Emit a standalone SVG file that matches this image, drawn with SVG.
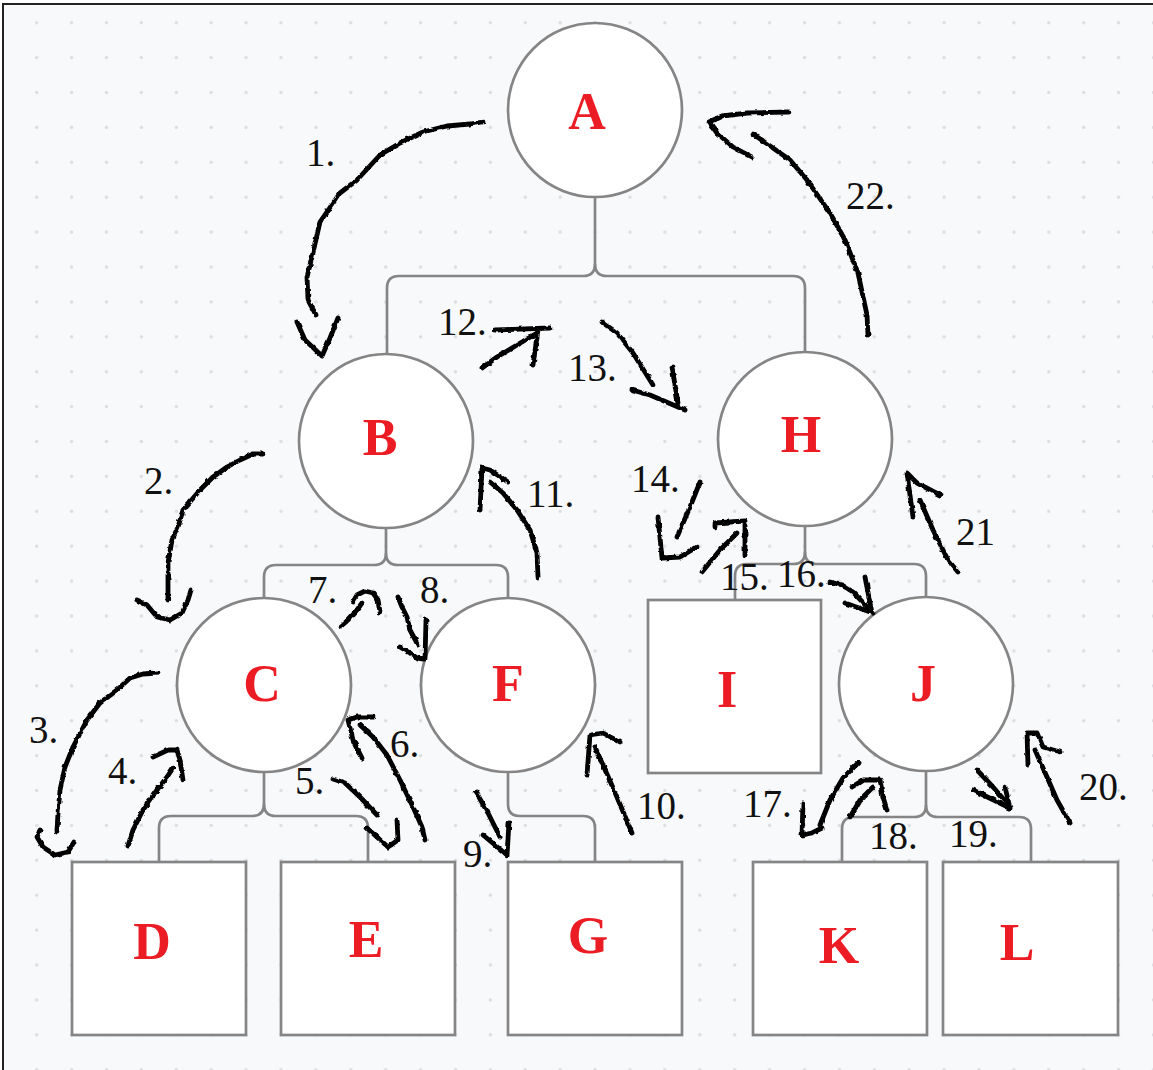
<svg xmlns="http://www.w3.org/2000/svg" width="1153" height="1070" viewBox="0 0 1153 1070">
  <defs>
    <pattern id="dots" x="19.25" y="5.25" width="34.9" height="34.9" patternUnits="userSpaceOnUse">
      <circle cx="17.45" cy="17.45" r="1.7" fill="#dcdde1"/>
    </pattern>
    <filter id="wobble" x="-10%" y="-10%" width="120%" height="120%">
      <feTurbulence type="fractalNoise" baseFrequency="0.22" numOctaves="1" seed="3" result="n"/>
      <feDisplacementMap in="SourceGraphic" in2="n" scale="3.5" xChannelSelector="R" yChannelSelector="G"/>
    </filter>
    <style>
      .node { fill: #ffffff; stroke: #858585; stroke-width: 2.7; }
      .edge { fill: none; stroke: #858585; stroke-width: 2.7; }
      .label { font-family: "Liberation Serif", "Times New Roman", serif; font-weight: bold; font-size: 52px; fill: #ec1c24; text-anchor: middle; }
      .step { font-family: "Liberation Serif", "Times New Roman", serif; font-size: 39px; fill: #111111; }
      .pen { fill: none; stroke: #000000; stroke-width: 4.8; stroke-linecap: round; stroke-linejoin: round; }
    </style>
  </defs>

  <!-- canvas -->
  <rect width="1153" height="1070" fill="#ffffff"/>
  <rect x="3" y="4" width="1150" height="1066" fill="#f8f9fb"/>
  <rect x="3" y="4" width="1150" height="1066" fill="url(#dots)"/>
  <path d="M3,1070 V4 H1153" fill="none" stroke="#222222" stroke-width="2"/>

  <!-- tree connectors -->
  <g id="connectors">
    <path class="edge" d="M595,197 V264 Q595,276 583,276 H399 Q387,276 387,288 V354"/>
    <path class="edge" d="M595,264 Q595,276 607,276 H793 Q805,276 805,288 V352"/>
    <path class="edge" d="M386,528 V553 Q386,565 374,565 H276 Q264,565 264,577 V598"/>
    <path class="edge" d="M386,553 Q386,565 398,565 H496 Q508,565 508,577 V598"/>
    <path class="edge" d="M805,526 V552 Q805,564 793,564 H747 Q735,564 735,576 V600"/>
    <path class="edge" d="M805,552 Q805,564 817,564 H914 Q926,564 926,576 V597"/>
    <path class="edge" d="M264,772 V804 Q264,816 252,816 H171 Q159,816 159,828 V862"/>
    <path class="edge" d="M264,804 Q264,816 276,816 H356 Q368,816 368,828 V862"/>
    <path class="edge" d="M508,772 V804 Q508,816 520,816 H583 Q595,816 595,828 V862"/>
    <path class="edge" d="M926,771 V805 Q926,817 914,817 H854 Q842,817 842,829 V862"/>
    <path class="edge" d="M926,805 Q926,817 938,817 H1019 Q1031,817 1031,829 V862"/>
  </g>

  <!-- nodes -->
  <g id="node-A"><circle class="node" cx="595" cy="110" r="87"/><text class="label" x="587" y="129">A</text></g>
  <g id="node-B"><circle class="node" cx="386" cy="441" r="87"/><text class="label" x="380" y="455">B</text></g>
  <g id="node-H"><circle class="node" cx="805" cy="439" r="87"/><text class="label" x="801" y="452">H</text></g>
  <g id="node-C"><circle class="node" cx="264" cy="685" r="87"/><text class="label" x="262" y="701">C</text></g>
  <g id="node-F"><circle class="node" cx="508" cy="685" r="87"/><text class="label" x="508" y="701">F</text></g>
  <g id="node-I"><rect class="node" x="648" y="600" width="173" height="173"/><text class="label" x="727" y="707">I</text></g>
  <g id="node-J"><circle class="node" cx="926" cy="684" r="87"/><text class="label" x="923" y="701">J</text></g>
  <g id="node-D"><rect class="node" x="72" y="862" width="174" height="173"/><text class="label" x="152" y="959">D</text></g>
  <g id="node-E"><rect class="node" x="281" y="862" width="174" height="173"/><text class="label" x="366" y="957">E</text></g>
  <g id="node-G"><rect class="node" x="508" y="862" width="174" height="173"/><text class="label" x="588" y="953">G</text></g>
  <g id="node-K"><rect class="node" x="753" y="862" width="174" height="173"/><text class="label" x="839" y="963">K</text></g>
  <g id="node-L"><rect class="node" x="943" y="862" width="175" height="173"/><text class="label" x="1017" y="960">L</text></g>

  <!-- hand-drawn traversal arrows -->
  <g id="traversal" filter="url(#wobble)">
    <path class="pen" d="M483,122 L470,124 L447,126 L423,132 L400,143 L380,155 L357,180 L340,193 L320,222 L312,257 L307,277 L308,300 L316,315"/>
    <path class="pen" d="M297,322 L305,340 L322,356 L330,338 L338,318"/>
    <path class="pen" d="M263,454 L253,454 L240,460 L227,467 L213,477 L200,490 L183,510 L178,527 L172,540 L168,563 L168,600"/>
    <path class="pen" d="M137,600 L147,605 L157,617 L170,620 L182,613 L188,600 L191,590"/>
    <path class="pen" d="M158,673 L143,674 L130,678 L117,690 L100,703 L87,720 L73,747 L65,767 L60,790 L58,813 L57,831"/>
    <path class="pen" d="M40,830 L37,837 L43,847 L55,855 L68,852 L74,842"/>
    <path class="pen" d="M128,846 L133,830 L143,810 L157,790 L167,777 L173,768"/>
    <path class="pen" d="M153,757 L168,750 L177,750 L180,760 L183,780"/>
    <path class="pen" d="M333,779 L345,783 L360,797 L377,815"/>
    <path class="pen" d="M367,828 L388,847 L398,840 L397,820"/>
    <path class="pen" d="M425,840 L422,827 L413,807 L400,780 L387,755 L373,737 L360,725"/>
    <path class="pen" d="M362,758 L353,740 L348,720 L357,717 L373,717"/>
    <path class="pen" d="M340,627 L348,620 L357,610 L362,603"/>
    <path class="pen" d="M353,602 L357,595 L365,591 L373,593 L378,600 L380,612"/>
    <path class="pen" d="M398,597 L402,607 L407,617 L410,630 L418,645"/>
    <path class="pen" d="M400,647 L410,653 L417,658 L425,659 L426,620"/>
    <path class="pen" d="M476,792 L488,813 L500,837"/>
    <path class="pen" d="M483,835 L507,855 L509,823"/>
    <path class="pen" d="M632,833 L614,790 L595,747"/>
    <path class="pen" d="M587,775 L590,735 L603,733 L620,742"/>
    <path class="pen" d="M538,577 L537,553 L530,530 L517,510 L503,493 L490,482"/>
    <path class="pen" d="M480,510 L482,468 L490,470 L508,482"/>
    <path class="pen" d="M482,368 L497,357 L517,345 L537,333"/>
    <path class="pen" d="M495,330 L550,328 M538,330 L533,365"/>
    <path class="pen" d="M602,322 L617,333 L633,353 L653,385"/>
    <path class="pen" d="M632,390 L650,395 L685,410 M672,367 L678,403"/>
    <path class="pen" d="M700,482 L690,507 L677,537"/>
    <path class="pen" d="M658,517 L662,558 L680,557 L697,547"/>
    <path class="pen" d="M702,572 L720,550 L737,533"/>
    <path class="pen" d="M715,527 L715,523 L745,521 L745,555"/>
    <path class="pen" d="M830,582 L842,585 L853,592 L870,610"/>
    <path class="pen" d="M845,603 L873,613 M865,577 L872,613"/>
    <path class="pen" d="M858,763 L843,778 L830,800 L820,825"/>
    <path class="pen" d="M803,803 L802,835 L812,833 L822,828"/>
    <path class="pen" d="M850,817 L860,800 L873,787"/>
    <path class="pen" d="M852,787 L863,780 L880,780 L883,797 L887,810"/>
    <path class="pen" d="M977,770 L993,787 L1007,803"/>
    <path class="pen" d="M973,790 L1010,808 M1005,787 L1010,808"/>
    <path class="pen" d="M1070,823 L1057,800 L1047,777 L1035,750"/>
    <path class="pen" d="M1028,765 L1027,733 L1037,733 L1043,747 L1060,752"/>
    <path class="pen" d="M958,572 L948,560 L933,530 L920,500"/>
    <path class="pen" d="M913,517 L907,473 L917,483 L940,495"/>
    <path class="pen" d="M868,335 L867,315 L858,273 L845,240 L830,213 L807,180 L790,160 L753,134"/>
    <path class="pen" d="M789,112 L747,113 L722,116 L709,122 L717,133 L733,147 L752,157"/>
  </g>

  <!-- step numbers -->
  <g id="steps">
    <text class="step" x="306" y="166">1.</text>
    <text class="step" x="144" y="494">2.</text>
    <text class="step" x="29" y="743">3.</text>
    <text class="step" x="108" y="784">4.</text>
    <text class="step" x="295" y="794">5.</text>
    <text class="step" x="390" y="757">6.</text>
    <text class="step" x="308" y="603">7.</text>
    <text class="step" x="420" y="603">8.</text>
    <text class="step" x="463" y="867">9.</text>
    <text class="step" x="637" y="819">10.</text>
    <text class="step" x="527" y="507">11.</text>
    <text class="step" x="438" y="335">12.</text>
    <text class="step" x="568" y="381">13.</text>
    <text class="step" x="631" y="492">14.</text>
    <text class="step" x="720" y="590">15.</text>
    <text class="step" x="777" y="587">16.</text>
    <text class="step" x="743" y="817">17.</text>
    <text class="step" x="869" y="849">18.</text>
    <text class="step" x="949" y="847">19.</text>
    <text class="step" x="1079" y="800">20.</text>
    <text class="step" x="956" y="545">21</text>
    <text class="step" x="846" y="209">22.</text>
  </g>
</svg>
